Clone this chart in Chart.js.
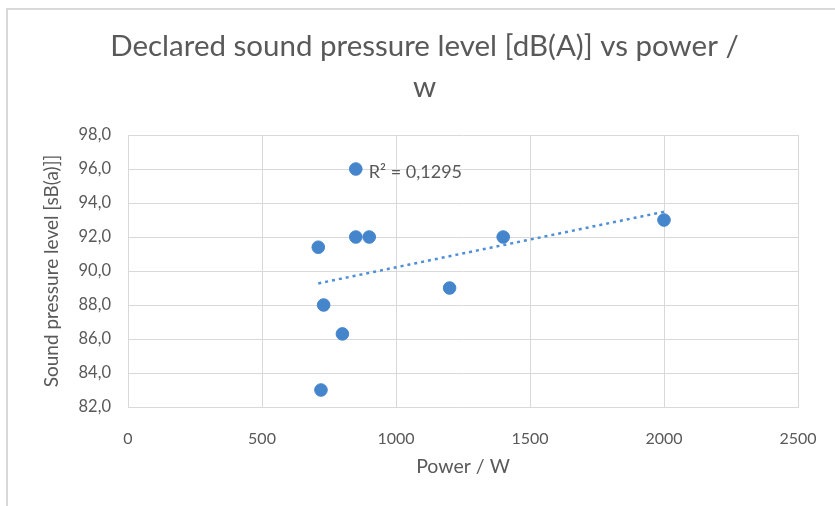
<!DOCTYPE html>
<html>
<head>
<meta charset="utf-8">
<script src="https://cdn.jsdelivr.net/npm/chart.js@4"></script>
<style>
  html, body { margin: 0; padding: 0; background: #fff; overflow: hidden; }
  #frame {
    position: absolute; left: 6px; top: 8px; width: 829px; height: 498px;
    border-left: 2px solid #d9d9d9; border-top: 2px solid #d9d9d9;
  }
  #wrap { position: absolute; left: 8px; top: 10px; width: 833px; height: 496px; }
</style>
</head>
<body>
<div id="frame"></div>
<div id="wrap"><canvas id="myChart"></canvas></div>
<script>
// data
var power = [850, 850, 900, 710, 730, 800, 720, 1200, 1400, 2000];
var spl = [96.0, 92.0, 92.0, 91.4, 88.0, 86.3, 83.0, 89.0, 92.0, 93.0];
var xTicks = [0, 500, 1000, 1500, 2000, 2500];
var yTicks = [82, 84, 86, 88, 90, 92, 94, 96, 98];

var points = power.map((p, i) => ({x: p, y: spl[i]}));

// linear trendline (least squares), like excel
var n = power.length;
var mx = power.reduce((a, b) => a + b, 0) / n;
var my = spl.reduce((a, b) => a + b, 0) / n;
var sxy = 0, sxx = 0, syy = 0;
for (var i = 0; i < n; i++) {
    sxy += (power[i] - mx) * (spl[i] - my);
    sxx += (power[i] - mx) * (power[i] - mx);
    syy += (spl[i] - my) * (spl[i] - my);
}
var slope = sxy / sxx;
var icpt = my - slope * mx;
var r2 = (sxy * sxy) / (sxx * syy);
var xMin = Math.min.apply(null, power), xMax = Math.max.apply(null, power);
var trend = [{x: xMin, y: icpt + slope * xMin}, {x: xMax, y: icpt + slope * xMax}];

var grey = '#595959';
var gridCol = '#d9d9d9';
var font = 'Lato';

// R² label next to the top point
var r2Label = {
    id: 'r2Label',
    afterDatasetsDraw(chart) {
        var ctx = chart.ctx;
        var top = points[0];
        var px = chart.scales.x.getPixelForValue(top.x);
        var py = chart.scales.y.getPixelForValue(top.y);
        ctx.save();
        ctx.font = '18px ' + font;
        ctx.fillStyle = grey;
        ctx.textBaseline = 'middle';
        ctx.fillText('R\u00b2 = ' + r2.toFixed(4).replace('.', ','), px + 13, py + 3);
        ctx.restore();
    }
};

var ctx = document.getElementById('myChart').getContext('2d');
var myChart = new Chart(ctx, {
    type: 'scatter',
    data: {
        datasets: [{
            type: 'line',
            data: trend,
            borderColor: '#4f8fd6',
            borderWidth: 2.5,
            borderDash: [3, 4],
            pointRadius: 0,
            fill: false,
            order: 0
        }, {
            data: points,
            backgroundColor: '#4585cc',
            borderColor: '#4585cc',
            pointRadius: 6.3,
            order: 1
        }]
    },
    options: {
        responsive: true,
        maintainAspectRatio: false,
        animation: false,
        layout: { padding: 0 },
        plugins: {
            legend: { display: false },
            tooltip: { enabled: false },
            title: {
                display: true,
                text: ['Declared sound pressure level [dB(A)] vs power /', 'w'],
                color: grey,
                font: { family: font, size: 29.5, weight: 'normal', lineHeight: 1.39 },
                padding: { top: 16, bottom: 27 }
            }
        },
        scales: {
            x: {
                type: 'linear',
                min: 0, max: 2500,
                afterBuildTicks: (s) => { s.ticks = xTicks.map(v => ({value: v})); },
                afterFit: (s) => { s.height = 99; },
                grid: { color: gridCol, drawTicks: false },
                border: { color: gridCol },
                ticks: {
                    color: grey, padding: 22,
                    font: { family: font, size: 16 },
                    callback: (v) => String(v)
                },
                title: {
                    display: true, text: 'Power / W', color: grey,
                    font: { family: font, size: 19.5 },
                    padding: { top: 0, bottom: 28 }
                }
            },
            y: {
                type: 'linear',
                min: 82, max: 98,
                afterBuildTicks: (s) => { s.ticks = yTicks.map(v => ({value: v})); },
                afterFit: (s) => { s.width = 120; },
                grid: { color: gridCol, drawTicks: false },
                border: { color: gridCol },
                ticks: {
                    color: grey, padding: 17,
                    font: { family: font, size: 16.5 },
                    callback: (v) => v.toFixed(1).replace('.', ',')
                },
                title: {
                    display: true, text: 'Sound pressure level [sB(a)]]', color: grey,
                    font: { family: font, size: 19 },
                    padding: { top: 32, bottom: 0 }
                }
            },
            // empty right axis, only keeps space on the right side of the plot
            yRight: {
                type: 'linear',
                position: 'right',
                min: 82, max: 98,
                afterFit: (s) => { s.width = 43; },
                grid: { display: false, drawTicks: false },
                border: { display: false },
                ticks: { display: false }
            }
        }
    },
    plugins: [r2Label]
});
</script>
</body>
</html>
